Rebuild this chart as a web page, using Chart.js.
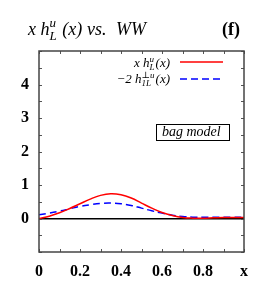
<!DOCTYPE html>
<html>
<head>
<meta charset="utf-8">
<script src="https://cdn.jsdelivr.net/npm/chart.js@4"></script>
<style>
  html, body { margin:0; padding:0; background:#fff; }
  #wrap { width:273px; height:286px; position:relative; }
</style>
</head>
<body>
<div id="wrap"><canvas id="c" width="273" height="286"></canvas></div>
<script>
// data
const xs      = [0, 0.05, 0.1, 0.15, 0.2, 0.25, 0.3, 0.35, 0.4, 0.45, 0.5, 0.55, 0.6, 0.65, 0.7, 0.75, 0.8, 0.85, 0.9, 0.95, 1.0];
const hLu     = [0, 0.07, 0.17, 0.30, 0.44, 0.58, 0.69, 0.74, 0.71, 0.61, 0.46, 0.31, 0.18, 0.09, 0.03, 0.01, 0.01, 0.02, 0.03, 0.03, 0.03];
const h1Lperp = [0.11, 0.16, 0.22, 0.29, 0.36, 0.41, 0.45, 0.46, 0.44, 0.39, 0.31, 0.23, 0.16, 0.10, 0.06, 0.04, 0.04, 0.04, 0.04, 0.04, 0.04];

const xTickVals = [0, 0.2, 0.4, 0.6, 0.8, 1];
const xTickText = ['0', '0.2', '0.4', '0.6', '0.8', 'x'];
const yTickVals = [0, 1, 2, 3, 4];

const SERIF = '"Liberation Serif", "DejaVu Serif", serif';

function pts(ys){ return xs.map((x, i) => ({x, y: ys[i]})); }

// draws x h^u_L(x) style text, parts are strings or {sup, sub}
function drawMath(ctx, x, y, parts, size, align){
  const main = `italic ${size}px ${SERIF}`;
  const small = `italic ${Math.round(size*0.7)}px ${SERIF}`;
  const widths = parts.map(p => {
    if(typeof p === 'string'){ ctx.font = main; return ctx.measureText(p).width; }
    ctx.font = small;
    return Math.max(ctx.measureText(p.sup).width, ctx.measureText(p.sub).width) + 1;
  });
  let cx = align === 'right' ? x - widths.reduce((a,b) => a+b, 0) : x;
  ctx.textAlign = 'left';
  ctx.textBaseline = 'alphabetic';
  ctx.fillStyle = '#000';
  parts.forEach((p, i) => {
    if(typeof p === 'string'){
      ctx.font = main; ctx.fillText(p, cx, y);
    } else {
      ctx.font = small;
      ctx.fillText(p.sup, cx, y - size*0.42);
      ctx.fillText(p.sub, cx, y + size*0.25);
    }
    cx += widths[i];
  });
}

const decor = {
  id: 'decor',
  afterDraw(chart){
    const {ctx, chartArea: a, scales} = chart;
    ctx.save();
    // inward ticks on all four sides
    ctx.strokeStyle = '#555';
    ctx.lineWidth = 1;
    ctx.beginPath();
    scales.x.ticks.forEach(t => {
      const px = Math.round(scales.x.getPixelForValue(t.value)) + 0.5;
      ctx.moveTo(px, a.bottom); ctx.lineTo(px, a.bottom - 3);
      ctx.moveTo(px, a.top); ctx.lineTo(px, a.top + 3);
    });
    scales.y.ticks.forEach(t => {
      const py = Math.round(scales.y.getPixelForValue(t.value)) + 0.5;
      ctx.moveTo(a.left, py); ctx.lineTo(a.left + 3, py);
      ctx.moveTo(a.right, py); ctx.lineTo(a.right - 3, py);
    });
    ctx.stroke();
    // frame
    ctx.strokeStyle = '#444';
    ctx.lineWidth = 1.5;
    ctx.strokeRect(a.left, a.top, a.right - a.left, a.bottom - a.top);

    // title
    drawMath(ctx, 28, 35, ['x h', {sup:'u', sub:'L'}, ' (x)'], 18, 'left');
    ctx.font = `italic 18px ${SERIF}`;
    ctx.fillText('vs.', 87, 35);
    ctx.fillText('WW', 116, 35);
    ctx.font = `bold 18px ${SERIF}`;
    ctx.fillText('(f)', 222, 35);

    // legend
    drawMath(ctx, 170, 67, ['x h', {sup:'u', sub:'L'}, '(x)'], 13, 'right');
    drawMath(ctx, 170, 83, ['\u22122 h', {sup:'\u22A5u', sub:'1L'}, '(x)'], 13, 'right');
    chart.data.datasets.forEach((ds, i) => {
      const ly = 62 + i*17;
      ctx.strokeStyle = ds.borderColor;
      ctx.lineWidth = ds.borderWidth;
      ctx.setLineDash(ds.borderDash || []);
      ctx.beginPath(); ctx.moveTo(180, ly); ctx.lineTo(223, ly); ctx.stroke();
    });
    ctx.setLineDash([]);

    // bag model box
    ctx.strokeStyle = '#000';
    ctx.lineWidth = 1;
    ctx.strokeRect(156.5, 124.5, 73, 16);
    ctx.font = `italic 14px ${SERIF}`;
    ctx.fillStyle = '#000';
    ctx.fillText('bag model', 162, 136);
    ctx.restore();
  }
};

new Chart(document.getElementById('c'), {
  type: 'line',
  data: {
    datasets: [
      { label: 'x h_L^u(x)', data: pts(hLu), borderColor: '#ff0000', borderWidth: 1.5,
        pointRadius: 0, tension: 0.4, fill: false },
      { label: '-2 h_1L^perp(x)', data: pts(h1Lperp), borderColor: '#0000ff', borderWidth: 1.5,
        borderDash: [7, 4], pointRadius: 0, tension: 0.4, fill: false }
    ]
  },
  options: {
    responsive: false,
    animation: false,
    layout: { padding: { top: 51, right: 29, left: 0, bottom: 0 } },
    plugins: { legend: { display: false }, tooltip: { enabled: false } },
    scales: {
      x: {
        type: 'linear', min: 0, max: 1,
        afterFit: s => { s.height = 34; },
        border: { display: false },
        grid: { drawOnChartArea: false, drawTicks: false },
        ticks: {
          stepSize: 0.1, autoSkip: false, maxRotation: 0, padding: 10,
          color: '#000', font: { family: SERIF, size: 16, weight: 'bold' },
          callback: v => {
            const i = xTickVals.findIndex(t => Math.abs(t - v) < 1e-6);
            return i >= 0 ? xTickText[i] : '';
          }
        }
      },
      y: {
        min: -1, max: 5,
        afterFit: s => { s.width = 39; },
        border: { display: false },
        grid: {
          drawTicks: false,
          color: c => (c.tick && c.tick.value === 0) ? '#000' : 'rgba(0,0,0,0)',
          lineWidth: 1.5
        },
        ticks: {
          stepSize: 0.5, autoSkip: false, padding: 10,
          color: '#000', font: { family: SERIF, size: 16, weight: 'bold' },
          callback: v => yTickVals.includes(v) ? String(v) : ''
        }
      }
    }
  },
  plugins: [decor]
});
</script>
</body>
</html>
